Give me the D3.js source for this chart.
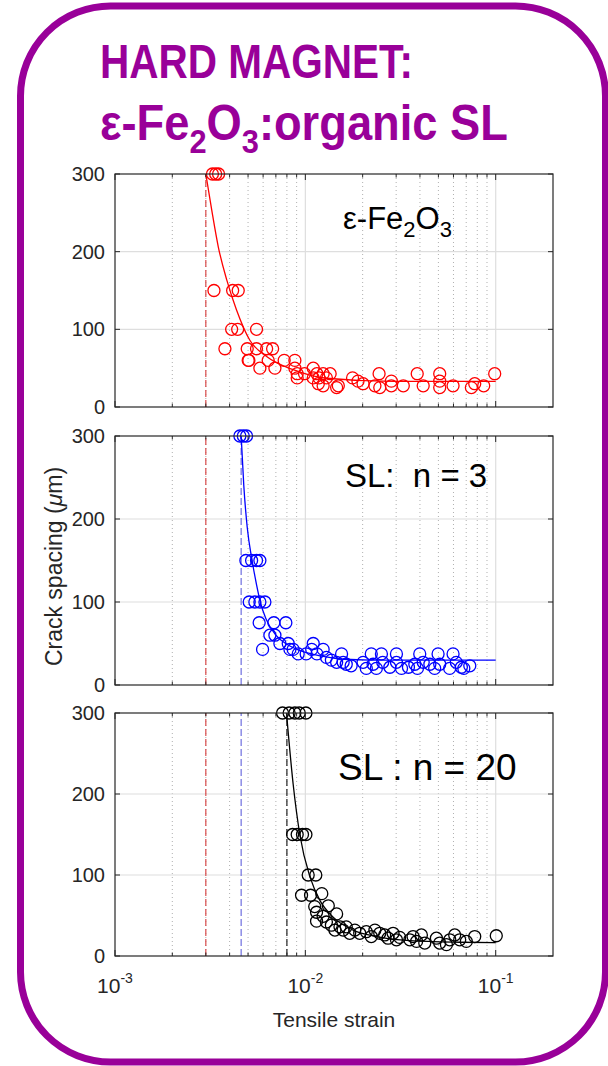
<!DOCTYPE html>
<html>
<head>
<meta charset="utf-8">
<script src="https://cdn.jsdelivr.net/npm/d3@7"></script>
<style>
  html, body { margin: 0; padding: 0; background: #fff; }
  svg { display: block; }
  text { font-family: "Liberation Sans", Arial, sans-serif; }
</style>
</head>
<body>
<svg id="chart" width="608" height="1066"></svg>
<script>
// ---------- data ----------
const strainDomain = [1e-3, 0.2];
const spacingDomain = [0, 300];
const strainTicks = [1e-3, 1e-2, 1e-1];
const strainTickExponents = ["-3", "-2", "-1"];
const spacingTicks = [0, 100, 200, 300];

const seriesColors = ["#ff0000", "#0000ff", "#000000"];
const onsetColors = ["#d94b4b", "#6f6fe0", "#222222"];
const onsetStrain = [0.003, 0.0046, 0.008];

// measured crack spacing (µm) vs tensile strain
const fe2o3Points = [
  [3.25e-3,300],[3.38e-3,300],[3.5e-3,300],
  [3.31e-3,150],[4.15e-3,150],[4.44e-3,150],
  [4.10e-3,100],[4.41e-3,100],[5.54e-3,100],
  [3.78e-3,75],[4.95e-3,75],[5.54e-3,75],[6.26e-3,75],[6.73e-3,75],
  [5.01e-3,60],[5.05e-3,60],[5.77e-3,50],[6.38e-3,60],[6.92e-3,50],[7.74e-3,60],
  [8.81e-3,60],[8.81e-3,50],[9.06e-3,42.9],[9.06e-3,37.5],
  [9.9e-3,42.9],[1.10e-2,50],[1.10e-2,37.5],[1.15e-2,42.9],[1.17e-2,30],[1.18e-2,37.5],
  [1.24e-2,42.9],[1.24e-2,27.3],[1.29e-2,37.5],[1.35e-2,42.9],[1.46e-2,25],[1.49e-2,27.3],
  [1.77e-2,37.5],[1.89e-2,33.3],[2.01e-2,30],[2.32e-2,27.3],[2.44e-2,42.9],[2.46e-2,25],
  [2.83e-2,33.3],[2.83e-2,27.3],[3.27e-2,27.3],[3.87e-2,42.9],[4.16e-2,27.3],
  [5.08e-2,42.9],[5.08e-2,33.3],[5.08e-2,25],[5.97e-2,27.3],[7.45e-2,25],[7.76e-2,30],
  [8.65e-2,27.3],[9.88e-2,42.9]
];
const fe2o3Fit = [
  [3.0e-3,300],[3.22e-3,254],[3.49e-3,206],[3.86e-3,164],[4.35e-3,125],[5.11e-3,86],
  [6.26e-3,65],[8.63e-3,48],[1.29e-2,37],[2.89e-2,33],[0.1,33]
];

const sl3Points = [
  [4.53e-3,300],[4.72e-3,300],[4.91e-3,300],
  [4.87e-3,150],[5.22e-3,150],[5.54e-3,150],[5.77e-3,150],
  [5.07e-3,100],[5.43e-3,100],[5.77e-3,100],[6.13e-3,100],
  [5.72e-3,75],[6.83e-3,75],[7.9e-3,75],
  [6.51e-3,60],[6.92e-3,60],[7.35e-3,50],[8.13e-3,50],[8.3e-3,42.9],[5.96e-3,42.9],
  [8.63e-3,42.9],[9.17e-3,37.5],[1.01e-2,37.5],[1.08e-2,42.9],[1.10e-2,50],[1.15e-2,37.5],
  [1.24e-2,42.9],[1.29e-2,33.3],[1.37e-2,30],[1.46e-2,27.3],[1.55e-2,37.5],[1.58e-2,27.3],
  [1.64e-2,25],[1.74e-2,23.1],
  [2.01e-2,27.3],[2.09e-2,20],[2.22e-2,37.5],[2.27e-2,25],[2.36e-2,20],[2.51e-2,37.5],
  [2.55e-2,27.3],[2.78e-2,21.4],[3.01e-2,37.5],[3.01e-2,27.3],[3.2e-2,20],[3.48e-2,21.4],
  [3.76e-2,25],[3.88e-2,20],[3.99e-2,37.5],[4.16e-2,27.3],[4.51e-2,25],[4.78e-2,20],
  [4.98e-2,37.5],[5.08e-2,25],[5.97e-2,37.5],[5.73e-2,20],[6.21e-2,27.3],[6.6e-2,21.4],
  [6.8e-2,20],[7.31e-2,23.1]
];
const sl3Fit = [
  [4.6e-3,300],[4.75e-3,240],[4.95e-3,190],[5.25e-3,150],[5.55e-3,120],[5.8e-3,100],
  [6.2e-3,80],[7.0e-3,60],[8.0e-3,49],[9.5e-3,41],[1.2e-2,35],[1.6e-2,31],[2.2e-2,30],[0.1,30]
];

const sl20Points = [
  [7.59e-3,300],[8.22e-3,300],[8.81e-3,300],[9.29e-3,300],[1.007e-2,300],
  [8.57e-3,150],[9.06e-3,150],[9.66e-3,150],[1.007e-2,150],
  [1.035e-2,100],[1.135e-2,100],
  [9.55e-3,75],[1.065e-2,75],[1.22e-2,77],
  [1.12e-2,61],[1.32e-2,62],[1.145e-2,54],
  [1.145e-2,43],[1.24e-2,49],[1.29e-2,42],[1.46e-2,52],[1.37e-2,38],[1.43e-2,32],
  [1.52e-2,36],[1.58e-2,32],[1.64e-2,36],[1.71e-2,28],[1.82e-2,32],[1.93e-2,28],
  [2.09e-2,30],[2.22e-2,24],[2.32e-2,32],[2.46e-2,28],[2.61e-2,26],[2.72e-2,22],
  [2.89e-2,28],[3.01e-2,20],[3.13e-2,23],[3.54e-2,20],[3.68e-2,24],[3.84e-2,18],
  [4.07e-2,26],[4.24e-2,16],[4.88e-2,22],[5.08e-2,16],[5.51e-2,14],[5.74e-2,20],
  [6.09e-2,26],[6.47e-2,20],[7.01e-2,18],[7.76e-2,24],[0.1007,25]
];
const sl20Fit = [
  [7.96e-3,300],[8.63e-3,212],[9.35e-3,150],[1.06e-2,97],[1.19e-2,69],[1.4e-2,48],
  [1.78e-2,32],[2.37e-2,24],[3.54e-2,19],[6.47e-2,17],[0.1,16.5]
];

const panelPoints = [fe2o3Points, sl3Points, sl20Points];
const panelFits = [fe2o3Fit, sl3Fit, sl20Fit];

// ---------- layout ----------
const purple = "#990099";
const axisColor = "#262626";
const plotLeft = 115, plotRight = 553;
const panelBoxes = [
  { top: 174, bottom: 407 },
  { top: 436, bottom: 685 },
  { top: 713, bottom: 956 }
];

const svg = d3.select("#chart");

// rounded outer frame
svg.append("rect")
  .attr("x", 20.5).attr("y", 6)
  .attr("width", 585).attr("height", 1056)
  .attr("rx", 90).attr("ry", 90)
  .attr("fill", "#fff")
  .attr("stroke", purple)
  .attr("stroke-width", 7);

// title, fitted to its measured width
function fitText(sel, x, baseline, width) {
  const w = sel.node().getComputedTextLength();
  sel.attr("transform", `translate(${x},${baseline}) scale(${width / w},1)`);
}
const t1 = svg.append("text")
  .attr("fill", purple).attr("font-weight", "bold").attr("font-size", 48)
  .text("HARD MAGNET:");
fitText(t1, 100, 78, 313);

const t2 = svg.append("text")
  .attr("fill", purple).attr("font-weight", "bold").attr("font-size", 50);
t2.append("tspan").text("ε-Fe");
t2.append("tspan").attr("font-size", 34).attr("dy", 13).text("2");
t2.append("tspan").attr("dy", -13).text("O");
t2.append("tspan").attr("font-size", 34).attr("dy", 13).text("3");
t2.append("tspan").attr("dy", -13).text(":organic SL");
fitText(t2, 100, 140, 408);

const x = d3.scaleLog().domain(strainDomain).range([plotLeft, plotRight]);

const minorStrains = [];
[1e-3, 1e-2, 1e-1].forEach(d => {
  for (let k = 2; k <= 9; k++) {
    const v = d * k;
    if (v < strainDomain[1] * 0.999) minorStrains.push(v);
  }
});

panelBoxes.forEach((box, i) => {
  const y = d3.scaleLinear().domain(spacingDomain).range([box.bottom, box.top]);
  const g = svg.append("g");

  // minor x grid (dotted)
  g.selectAll(".minor-grid").data(minorStrains).join("line")
    .attr("x1", d => x(d)).attr("x2", d => x(d))
    .attr("y1", box.top).attr("y2", box.bottom)
    .attr("stroke", "#b0b0b0").attr("stroke-width", 1)
    .attr("stroke-dasharray", "1,3");

  // major x grid
  g.selectAll(".major-grid-x").data(strainTicks.slice(1)).join("line")
    .attr("x1", d => x(d)).attr("x2", d => x(d))
    .attr("y1", box.top).attr("y2", box.bottom)
    .attr("stroke", "#dedede").attr("stroke-width", 1.2);

  // major y grid
  g.selectAll(".major-grid-y").data(spacingTicks.slice(1, -1)).join("line")
    .attr("x1", plotLeft).attr("x2", plotRight)
    .attr("y1", d => y(d)).attr("y2", d => y(d))
    .attr("stroke", "#dedede").attr("stroke-width", 1.2);

  // onset strain markers (dashed)
  for (let j = 0; j <= i; j++) {
    g.append("line")
      .attr("x1", x(onsetStrain[j])).attr("x2", x(onsetStrain[j]))
      .attr("y1", box.bottom).attr("y2", box.top)
      .attr("stroke", onsetColors[j]).attr("stroke-width", 1.2)
      .attr("stroke-dasharray", "7,3");
  }

  // fitted curve
  const line = d3.line()
    .x(d => x(d[0])).y(d => y(d[1]))
    .curve(d3.curveMonotoneX);
  g.append("path").datum(panelFits[i])
    .attr("d", line)
    .attr("fill", "none")
    .attr("stroke", seriesColors[i]).attr("stroke-width", 1.3);

  // measured points
  g.selectAll(".pt").data(panelPoints[i]).join("circle")
    .attr("cx", d => x(d[0])).attr("cy", d => y(d[1]))
    .attr("r", 6)
    .attr("fill", "none")
    .attr("stroke", seriesColors[i]).attr("stroke-width", 1.3);

  // box
  g.append("rect")
    .attr("x", plotLeft).attr("y", box.top)
    .attr("width", plotRight - plotLeft).attr("height", box.bottom - box.top)
    .attr("fill", "none").attr("stroke", axisColor).attr("stroke-width", 1.2);

  // x ticks (inward, bottom and top)
  const xTickData = strainTicks.map(v => ({ v, len: 6 }))
    .concat(minorStrains.map(v => ({ v, len: 3.5 })));
  g.selectAll(".xtick-b").data(xTickData).join("line")
    .attr("x1", d => x(d.v)).attr("x2", d => x(d.v))
    .attr("y1", box.bottom).attr("y2", d => box.bottom - d.len)
    .attr("stroke", axisColor).attr("stroke-width", 1);
  g.selectAll(".xtick-t").data(xTickData).join("line")
    .attr("x1", d => x(d.v)).attr("x2", d => x(d.v))
    .attr("y1", box.top).attr("y2", d => box.top + d.len)
    .attr("stroke", axisColor).attr("stroke-width", 1);

  // y ticks (inward, left and right) and labels
  g.selectAll(".ytick-l").data(spacingTicks).join("line")
    .attr("x1", plotLeft).attr("x2", plotLeft + 5)
    .attr("y1", d => y(d)).attr("y2", d => y(d))
    .attr("stroke", axisColor);
  g.selectAll(".ytick-r").data(spacingTicks).join("line")
    .attr("x1", plotRight).attr("x2", plotRight - 5)
    .attr("y1", d => y(d)).attr("y2", d => y(d))
    .attr("stroke", axisColor);
  g.selectAll(".ylab").data(spacingTicks).join("text")
    .attr("x", plotLeft - 10).attr("y", d => y(d) + 7)
    .attr("text-anchor", "end")
    .attr("font-size", 20).attr("fill", axisColor)
    .text(d => d);
});

// panel labels
const lab1 = svg.append("text").attr("x", 343).attr("y", 229)
  .attr("font-size", 31).attr("fill", "#000");
lab1.append("tspan").text("ε-Fe");
lab1.append("tspan").attr("font-size", 22).attr("dy", 8).text("2");
lab1.append("tspan").attr("dy", -8).text("O");
lab1.append("tspan").attr("font-size", 22).attr("dy", 8).text("3");

svg.append("text").attr("x", 345).attr("y", 487)
  .attr("font-size", 33).attr("fill", "#000")
  .style("white-space", "pre")
  .text("SL:  n = 3");

svg.append("text").attr("x", 338).attr("y", 780)
  .attr("font-size", 37).attr("fill", "#000")
  .style("white-space", "pre")
  .text("SL : n = 20");

// x tick labels (powers of ten)
strainTicks.forEach((v, k) => {
  const t = svg.append("text")
    .attr("x", x(v)).attr("y", 993)
    .attr("text-anchor", "middle")
    .attr("font-size", 21).attr("fill", axisColor);
  t.append("tspan").text("10");
  t.append("tspan").attr("font-size", 14).attr("dy", -10).text(strainTickExponents[k]);
});

// axis titles
svg.append("text")
  .attr("x", (plotLeft + plotRight) / 2).attr("y", 1027)
  .attr("text-anchor", "middle")
  .attr("font-size", 21).attr("fill", axisColor)
  .text("Tensile strain");

const yTitle = svg.append("text")
  .attr("transform", `translate(62,${(panelBoxes[1].top + panelBoxes[1].bottom) / 2 + 6}) rotate(-90)`)
  .attr("text-anchor", "middle")
  .attr("font-size", 23).attr("fill", axisColor);
yTitle.append("tspan").text("Crack spacing (");
yTitle.append("tspan").attr("font-style", "italic").text("μ");
yTitle.append("tspan").text("m)");
</script>
</body>
</html>
